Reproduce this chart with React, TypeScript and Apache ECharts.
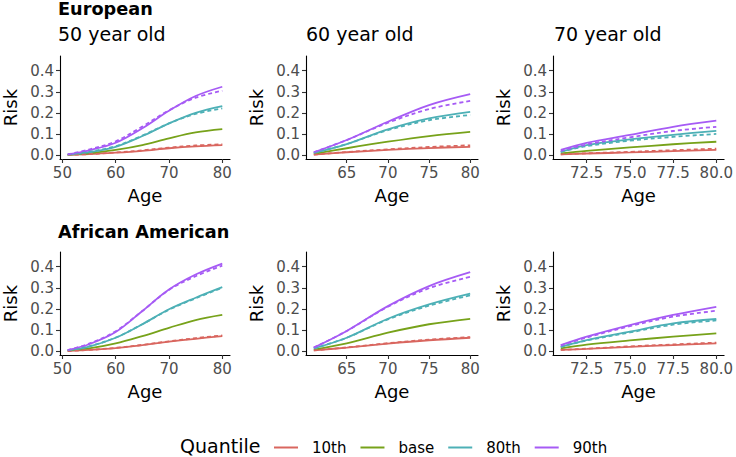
import React, { useEffect, useRef } from "react";
import * as echarts from "echarts";

// ---- data ----
const quantiles = ["10th", "base", "80th", "90th"];

const ages50 = [51, 55, 60, 65, 70, 75, 80];
const ages60 = [61, 65, 70, 75, 80];
const ages70 = [71, 72.5, 75, 77.5, 80];

const xTicks50 = [50, 60, 70, 80];
const xTicks60 = [65, 70, 75, 80];
const xTicks70 = [72.5, 75, 77.5, 80];
const yTicks = [0, 0.1, 0.2, 0.3, 0.4];

// European, 50 year old
const eur50_10th = [0.001, 0.004, 0.011, 0.02, 0.032, 0.041, 0.047];
const eur50_10th_alt = [0.001, 0.004, 0.012, 0.022, 0.035, 0.045, 0.051];
const eur50_base = [0.001, 0.008, 0.024, 0.047, 0.079, 0.107, 0.123];
const eur50_80th = [0.002, 0.013, 0.039, 0.09, 0.15, 0.2, 0.232];
const eur50_80th_alt = [0.002, 0.015, 0.042, 0.092, 0.15, 0.195, 0.221];
const eur50_90th = [0.003, 0.022, 0.058, 0.127, 0.21, 0.28, 0.324];
const eur50_90th_alt = [0.003, 0.026, 0.065, 0.135, 0.212, 0.272, 0.305];

// European, 60 year old
const eur60_10th = [0.002, 0.013, 0.024, 0.033, 0.039];
const eur60_10th_alt = [0.002, 0.014, 0.027, 0.038, 0.046];
const eur60_base = [0.005, 0.032, 0.063, 0.09, 0.11];
const eur60_80th = [0.01, 0.052, 0.122, 0.174, 0.205];
const eur60_80th_alt = [0.01, 0.052, 0.118, 0.165, 0.19];
const eur60_90th = [0.013, 0.071, 0.158, 0.237, 0.289];
const eur60_90th_alt = [0.013, 0.071, 0.153, 0.218, 0.257];

// European, 70 year old
const eur70_10th = [0.003, 0.007, 0.012, 0.018, 0.024];
const eur70_10th_alt = [0.003, 0.008, 0.015, 0.023, 0.03];
const eur70_base = [0.008, 0.02, 0.036, 0.051, 0.063];
const eur70_80th = [0.015, 0.047, 0.074, 0.096, 0.115];
const eur70_80th_alt = [0.015, 0.042, 0.068, 0.086, 0.1];
const eur70_90th = [0.024, 0.058, 0.095, 0.134, 0.163];
const eur70_90th_alt = [0.02, 0.05, 0.084, 0.114, 0.134];

// African American, 50 year old
const aa50_10th = [0, 0.005, 0.014, 0.028, 0.044, 0.058, 0.071];
const aa50_10th_alt = [0, 0.005, 0.015, 0.029, 0.046, 0.061, 0.074];
const aa50_base = [0.002, 0.012, 0.036, 0.071, 0.11, 0.147, 0.171];
const aa50_80th = [0.003, 0.021, 0.063, 0.127, 0.198, 0.253, 0.303];
const aa50_80th_alt = [0.003, 0.022, 0.064, 0.127, 0.196, 0.25, 0.3];
const aa50_90th = [0.004, 0.032, 0.09, 0.19, 0.292, 0.363, 0.415];
const aa50_90th_alt = [0.004, 0.035, 0.094, 0.19, 0.29, 0.355, 0.405];

// African American, 60 year old
const aa60_10th = [0.003, 0.016, 0.035, 0.051, 0.063];
const aa60_10th_alt = [0.003, 0.017, 0.037, 0.054, 0.066];
const aa60_base = [0.007, 0.036, 0.087, 0.127, 0.153];
const aa60_80th = [0.012, 0.063, 0.153, 0.221, 0.272];
const aa60_80th_alt = [0.012, 0.063, 0.15, 0.215, 0.264];
const aa60_90th = [0.016, 0.095, 0.213, 0.308, 0.374];
const aa60_90th_alt = [0.016, 0.095, 0.21, 0.298, 0.352];

// African American, 70 year old
const aa70_10th = [0.005, 0.01, 0.02, 0.028, 0.036];
const aa70_10th_alt = [0.005, 0.011, 0.022, 0.031, 0.04];
const aa70_base = [0.012, 0.03, 0.05, 0.068, 0.084];
const aa70_80th = [0.02, 0.052, 0.092, 0.131, 0.152];
const aa70_80th_alt = [0.02, 0.05, 0.088, 0.125, 0.145];
const aa70_90th = [0.028, 0.068, 0.123, 0.171, 0.21];
const aa70_90th_alt = [0.026, 0.064, 0.118, 0.163, 0.191];

// ---- layout / style ----
const COLORS = ["#D9665F", "#77A21A", "#4DB0B6", "#A65BF5"];
const FONT = "DejaVu Sans";

const panels = [
  { ages: ages50, ticks: xTicks50, min: 49.55, max: 81.45, dec: 0,
    solid: [eur50_10th, eur50_base, eur50_80th, eur50_90th],
    dashed: [eur50_10th_alt, null, eur50_80th_alt, eur50_90th_alt] },
  { ages: ages60, ticks: xTicks60, min: 60.05, max: 80.95, dec: 0,
    solid: [eur60_10th, eur60_base, eur60_80th, eur60_90th],
    dashed: [eur60_10th_alt, null, eur60_80th_alt, eur60_90th_alt] },
  { ages: ages70, ticks: xTicks70, min: 70.55, max: 80.45, dec: 1,
    solid: [eur70_10th, eur70_base, eur70_80th, eur70_90th],
    dashed: [eur70_10th_alt, null, eur70_80th_alt, eur70_90th_alt] },
  { ages: ages50, ticks: xTicks50, min: 49.55, max: 81.45, dec: 0,
    solid: [aa50_10th, aa50_base, aa50_80th, aa50_90th],
    dashed: [aa50_10th_alt, null, aa50_80th_alt, aa50_90th_alt] },
  { ages: ages60, ticks: xTicks60, min: 60.05, max: 80.95, dec: 0,
    solid: [aa60_10th, aa60_base, aa60_80th, aa60_90th],
    dashed: [aa60_10th_alt, null, aa60_80th_alt, aa60_90th_alt] },
  { ages: ages70, ticks: xTicks70, min: 70.55, max: 80.45, dec: 1,
    solid: [aa70_10th, aa70_base, aa70_80th, aa70_90th],
    dashed: [aa70_10th_alt, null, aa70_80th_alt, aa70_90th_alt] },
];

const gridLefts = [58, 306, 553];
const gridWidths = [172, 172, 173];
const gridTops = [56, 252];
const GRID_H = 103;

export default function App() {
  const ref = useRef<HTMLDivElement>(null);

  useEffect(() => {
    if (!ref.current) return;
    const chart = echarts.init(ref.current, null, { renderer: "svg" });

    const grids: any[] = [];
    const xAxes: any[] = [];
    const yAxes: any[] = [];
    const series: any[] = [];

    panels.forEach((p, i) => {
      const col = i % 3;
      const row = Math.floor(i / 3);
      grids.push({
        left: gridLefts[col],
        top: gridTops[row],
        width: gridWidths[col],
        height: GRID_H,
        containLabel: false,
      });
      xAxes.push({
        type: "value",
        gridIndex: i,
        min: p.min,
        max: p.max,
        name: "Age",
        nameLocation: "middle",
        nameGap: 27,
        nameTextStyle: { fontFamily: FONT, fontSize: 18, color: "#000" },
        axisLine: { show: true, onZero: false, lineStyle: { color: "#000", width: 1.1 } },
        axisTick: { show: true, length: 4, customValues: p.ticks, lineStyle: { color: "#333", width: 1.1 } },
        axisLabel: {
          customValues: p.ticks,
          margin: 6,
          fontFamily: FONT,
          fontSize: 15,
          color: "#4D4D4D",
          formatter: (v: number) => v.toFixed(p.dec),
        },
        splitLine: { show: false },
      });
      yAxes.push({
        type: "value",
        gridIndex: i,
        min: -0.019,
        max: 0.47,
        name: "Risk",
        nameLocation: "middle",
        nameGap: 41,
        nameTextStyle: { fontFamily: FONT, fontSize: 18, color: "#000" },
        axisLine: { show: true, onZero: false, lineStyle: { color: "#000", width: 1.1 } },
        axisTick: { show: true, length: 4, customValues: yTicks, lineStyle: { color: "#333", width: 1.1 } },
        axisLabel: {
          customValues: yTicks,
          margin: 6,
          fontFamily: FONT,
          fontSize: 15,
          color: "#4D4D4D",
          formatter: (v: number) => v.toFixed(1),
        },
        splitLine: { show: false },
      });
      quantiles.forEach((q, k) => {
        series.push({
          type: "line",
          name: q,
          xAxisIndex: i,
          yAxisIndex: i,
          data: p.ages.map((a, j) => [a, p.solid[k][j]]),
          smooth: 0.35,
          showSymbol: false,
          symbol: "none",
          color: COLORS[k],
          lineStyle: { color: COLORS[k], width: 1.8 },
          itemStyle: { color: COLORS[k] },
          z: 2,
        });
      });
      quantiles.forEach((q, k) => {
        const d = p.dashed[k];
        if (!d) return;
        series.push({
          type: "line",
          name: q,
          xAxisIndex: i,
          yAxisIndex: i,
          data: p.ages.map((a, j) => [a, d[j]]),
          smooth: 0.35,
          showSymbol: false,
          symbol: "none",
          color: COLORS[k],
          lineStyle: { color: COLORS[k], width: 1.8, type: [4, 3] },
          itemStyle: { color: COLORS[k] },
          z: 3,
        });
      });
    });

    const option: any = {
      animation: false,
      backgroundColor: "#fff",
      grid: grids,
      xAxis: xAxes,
      yAxis: yAxes,
      series,
      legend: {
        data: quantiles,
        left: 274,
        top: 440,
        padding: 0,
        orient: "horizontal",
        icon: "rect",
        itemWidth: 24,
        itemHeight: 2,
        itemGap: 14,
        selectedMode: false,
        textStyle: { fontFamily: FONT, fontSize: 15, color: "#000", padding: [0, 0, 0, 9] },
      },
      graphic: [
        { type: "text", left: 58, top: 0, style: { text: "European", fontFamily: FONT, fontSize: 17.7, fontWeight: "bold", fill: "#000" } },
        { type: "text", left: 58, top: 24, style: { text: "50 year old", fontFamily: FONT, fontSize: 19, fill: "#000" } },
        { type: "text", left: 306, top: 24, style: { text: "60 year old", fontFamily: FONT, fontSize: 19, fill: "#000" } },
        { type: "text", left: 554, top: 24, style: { text: "70 year old", fontFamily: FONT, fontSize: 19, fill: "#000" } },
        { type: "text", left: 58, top: 223, style: { text: "African American", fontFamily: FONT, fontSize: 17.7, fontWeight: "bold", fill: "#000" } },
        { type: "text", left: 180, top: 436, style: { text: "Quantile", fontFamily: FONT, fontSize: 19, fill: "#000" } },
      ],
    };

    chart.setOption(option);
    return () => chart.dispose();
  }, []);

  return (
    <div
      ref={ref}
      style={{ position: "fixed", left: 0, top: 0, width: 736, height: 457, background: "#fff" }}
    />
  );
}
